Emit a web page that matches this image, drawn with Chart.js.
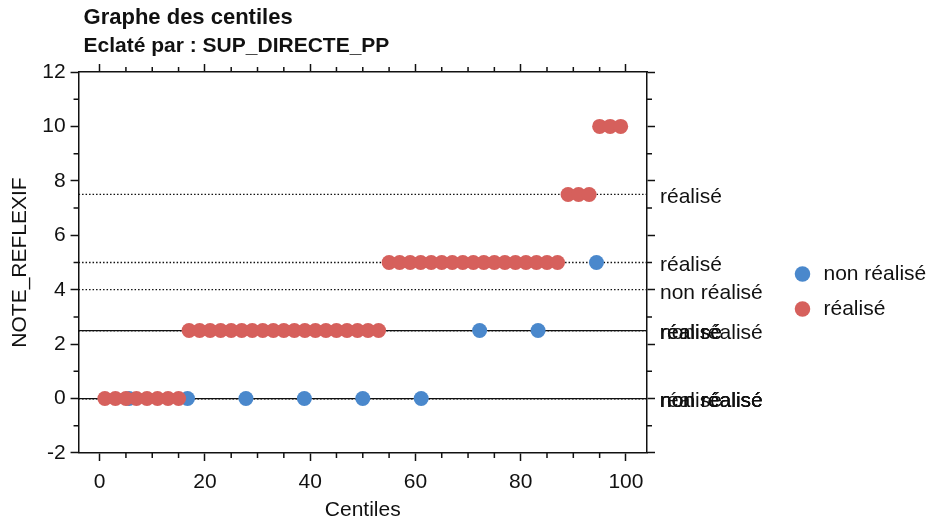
<!DOCTYPE html>
<html>
<head>
<meta charset="utf-8">
<title>Graphe des centiles</title>
<script src="https://cdn.jsdelivr.net/npm/chart.js@4.4.0/dist/chart.umd.min.js"></script>
<style>
  html, body { margin: 0; padding: 0; background: #fff; }
  #wrap { width: 938px; height: 519px; }
</style>
</head>
<body>
<div id="wrap"><canvas id="centileChart"></canvas></div>
<script>
// groupes
const groupNames = ["non réalisé", "réalisé"];
const groupColors = ["#4a88cc", "#d6605c"];

// non réalisé : centiles et notes
const nonRealiseX = [5.6, 16.7, 27.8, 38.9, 50.0, 61.1, 72.2, 83.3, 94.4];
const nonRealiseY = [0, 0, 0, 0, 0, 0, 2.5, 2.5, 5];

// réalisé : centiles et notes
const realiseX = [1, 3, 5, 7, 9, 11, 13, 15,
  17, 19, 21, 23, 25, 27, 29, 31, 33, 35, 37, 39, 41, 43, 45, 47, 49, 51, 53,
  55, 57, 59, 61, 63, 65, 67, 69, 71, 73, 75, 77, 79, 81, 83, 85, 87,
  89, 91, 93,
  95, 97, 99];
const realiseY = [0, 0, 0, 0, 0, 0, 0, 0,
  2.5, 2.5, 2.5, 2.5, 2.5, 2.5, 2.5, 2.5, 2.5, 2.5, 2.5, 2.5, 2.5, 2.5, 2.5, 2.5, 2.5, 2.5, 2.5,
  5, 5, 5, 5, 5, 5, 5, 5, 5, 5, 5, 5, 5, 5, 5, 5, 5,
  7.5, 7.5, 7.5,
  10, 10, 10];

// lignes des centiles (P10, P25, P50, P75, P90) par groupe
const pctNames = ["P10", "P25", "P50", "P75", "P90"];
const nonRealisePct = [0, 0, 0, 2.5, 4];
const realisePct = [0, 2.5, 2.5, 5, 7.5];

// axes
const xTickLabels = [0, 20, 40, 60, 80, 100];
const xMinorTicks = [5, 10, 15, 25, 30, 35, 45, 50, 55, 65, 70, 75, 85, 90, 95];
const yTickLabels = [-2, 0, 2, 4, 6, 8, 10, 12];
const yMinorTicks = [-1, 1, 3, 5, 7, 9, 11];

const textColor = "#111";
const fontFamily = "'Liberation Sans', Arial, sans-serif";

Chart.defaults.font.family = fontFamily;
Chart.defaults.font.size = 21;
Chart.defaults.color = textColor;

function toPoints(xs, ys) {
    return xs.map((x, i) => ({ x: x, y: ys[i] }));
}

function setTicks(values) {
    return (scale) => { scale.ticks = values.map(v => ({ value: v })); };
}

const axisGrid = {
    drawOnChartArea: false,
    tickLength: 8,
    tickColor: textColor,
    tickWidth: 1.5
};
const axisBorder = { color: textColor, width: 1.5 };

// lignes horizontales des centiles + libellés à droite
const centileLines = {
    id: "centileLines",
    beforeDatasetsDraw(chart) {
        const { ctx, chartArea, scales } = chart;
        const groups = [nonRealisePct, realisePct];
        ctx.save();
        ctx.strokeStyle = textColor;
        ctx.lineWidth = 1.3;
        groups.forEach(pcts => {
            pcts.forEach((v, i) => {
                const y = scales.y.getPixelForValue(v);
                ctx.setLineDash(pctNames[i] === "P50" ? [] : [1.5, 2]);
                ctx.beginPath();
                ctx.moveTo(chartArea.left, y);
                ctx.lineTo(chartArea.right, y);
                ctx.stroke();
            });
        });
        ctx.restore();
    },
    afterDraw(chart) {
        const { ctx, chartArea, scales } = chart;
        const groups = [nonRealisePct, realisePct];
        ctx.save();
        ctx.fillStyle = textColor;
        ctx.font = "21px " + fontFamily;
        ctx.textBaseline = "middle";
        ctx.textAlign = "left";
        groups.forEach((pcts, g) => {
            pcts.forEach(v => {
                const y = scales.y.getPixelForValue(v);
                ctx.fillText(groupNames[g], chartArea.right + 13, y + 3);
            });
        });
        ctx.restore();
    }
};

// petites graduations
const minorTicks = {
    id: "minorTicks",
    afterDraw(chart) {
        const { ctx, chartArea, scales } = chart;
        ctx.save();
        ctx.strokeStyle = textColor;
        ctx.lineWidth = 1.5;
        ctx.beginPath();
        xMinorTicks.forEach(v => {
            const x = scales.x.getPixelForValue(v);
            ctx.moveTo(x, chartArea.bottom);
            ctx.lineTo(x, chartArea.bottom + 5);
            ctx.moveTo(x, chartArea.top);
            ctx.lineTo(x, chartArea.top - 5);
        });
        yMinorTicks.forEach(v => {
            const y = scales.y.getPixelForValue(v);
            ctx.moveTo(chartArea.left, y);
            ctx.lineTo(chartArea.left - 5, y);
            ctx.moveTo(chartArea.right, y);
            ctx.lineTo(chartArea.right + 5, y);
        });
        ctx.stroke();
        ctx.restore();
    }
};

// titre en haut à gauche
const header = {
    id: "header",
    afterDraw(chart) {
        const { ctx, chartArea } = chart;
        ctx.save();
        ctx.fillStyle = textColor;
        ctx.textBaseline = "middle";
        ctx.textAlign = "left";
        ctx.font = "bold 22px " + fontFamily;
        ctx.fillText("Graphe des centiles", chartArea.left + 5, 18);
        ctx.font = "bold 21px " + fontFamily;
        ctx.fillText("Eclaté par : SUP_DIRECTE_PP", chartArea.left + 5, 46);
        ctx.restore();
    }
};

const ctx = document.getElementById("centileChart").getContext("2d");

// réalisé en premier pour qu'il soit dessiné par-dessus
new Chart(ctx, {
    type: "scatter",
    data: {
        datasets: [
            {
                label: groupNames[1],
                data: toPoints(realiseX, realiseY),
                backgroundColor: groupColors[1],
                borderWidth: 0,
                pointRadius: 7.5,
                pointHoverRadius: 7.5
            },
            {
                label: groupNames[0],
                data: toPoints(nonRealiseX, nonRealiseY),
                backgroundColor: groupColors[0],
                borderWidth: 0,
                pointRadius: 7.5,
                pointHoverRadius: 7.5
            }
        ]
    },
    options: {
        responsive: true,
        maintainAspectRatio: false,
        animation: false,
        layout: { padding: { top: 64, left: 8, right: 6, bottom: 0 } },
        plugins: {
            title: { display: false },
            tooltip: { enabled: false },
            legend: {
                position: "right",
                align: "center",
                reverse: true,
                labels: {
                    usePointStyle: true,
                    pointStyle: "circle",
                    boxWidth: 21,
                    boxHeight: 11,
                    padding: 14,
                    color: textColor,
                    font: { size: 21 }
                }
            }
        },
        scales: {
            x: {
                type: "linear",
                position: "bottom",
                min: -4,
                max: 104,
                afterBuildTicks: setTicks(xTickLabels),
                ticks: { padding: 10.5, color: textColor, font: { size: 21, lineHeight: 1 } },
                grid: axisGrid,
                border: axisBorder,
                title: {
                    display: true,
                    text: "Centiles",
                    color: textColor,
                    font: { size: 21, lineHeight: 0.81 },
                    padding: { top: -1, bottom: 0 }
                }
            },
            x2: {
                type: "linear",
                position: "top",
                min: -4,
                max: 104,
                afterBuildTicks: setTicks(xTickLabels),
                ticks: { display: false },
                grid: axisGrid,
                border: axisBorder
            },
            y: {
                type: "linear",
                position: "left",
                min: -2,
                max: 12,
                afterBuildTicks: setTicks(yTickLabels),
                ticks: { padding: 5, color: textColor },
                grid: axisGrid,
                border: axisBorder,
                title: {
                    display: true,
                    text: "NOTE_REFLEXIF",
                    color: textColor,
                    font: { size: 21 },
                    padding: { top: 0, bottom: 4 }
                }
            },
            y2: {
                type: "linear",
                position: "right",
                min: -2,
                max: 12,
                afterBuildTicks: setTicks(yTickLabels),
                afterFit: (scale) => { scale.width = 131; },
                ticks: { display: false },
                grid: axisGrid,
                border: axisBorder
            }
        }
    },
    plugins: [centileLines, minorTicks, header]
});
</script>
</body>
</html>
